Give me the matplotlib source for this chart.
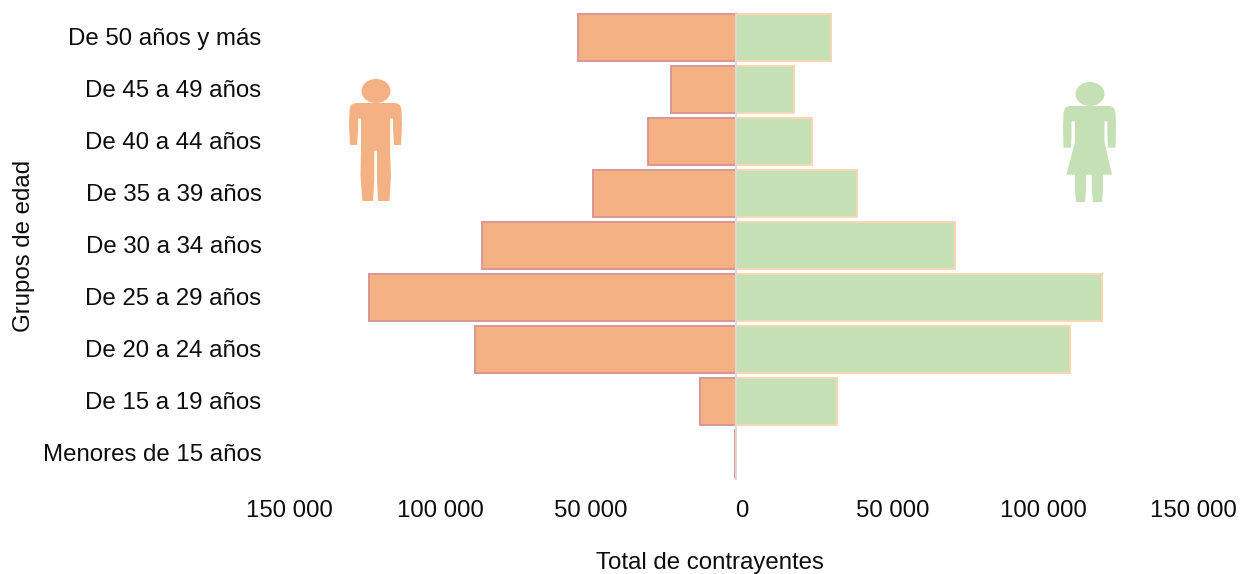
import matplotlib
matplotlib.use("Agg")
import matplotlib.pyplot as plt
from matplotlib.patches import Ellipse, PathPatch
from matplotlib.path import Path
from matplotlib.transforms import ScaledTranslation

plt.rcParams['font.family'] = ['Liberation Sans', 'DejaVu Sans']

grupos = ["Menores de 15 años", "De 15 a 19 años", "De 20 a 24 años", "De 25 a 29 años",
          "De 30 a 34 años", "De 35 a 39 años", "De 40 a 44 años", "De 45 a 49 años",
          "De 50 años y más"]
hombres = [150, 11800, 86900, 122600, 84700, 47600, 29100, 21550, 52700]
mujeres = [60, 33800, 111800, 122600, 73300, 40600, 25450, 19400, 31900]
ticks = [-150000, -100000, -50000, 0, 50000, 100000, 150000]
tick_labels = ["150 000", "100 000", "50 000", "0", "50 000", "100 000", "150 000"]

W, H = 1247, 574
FS = 17.3
TXT = "#0d0d0d"
fig = plt.figure(figsize=(W / 100, H / 100), dpi=100)
# left/bottom/width/height measured in pixels from the reference
ax = fig.add_axes([286.5 / W, 1 - 479.5 / H, 898 / W, 468 / H])

y = range(len(grupos))
ax.barh(y, [-v for v in hombres], height=0.9, color="#F4B183", edgecolor="#D99694", linewidth=1.4)
ax.barh(y, mujeres, height=0.9, color="#C5E0B4", edgecolor="#FBD5B5", linewidth=1.4)
ax.axvline(0, color="#D9D9D9", linewidth=1.2, zorder=5)

ax.set_xlim(-150000, 150000)
ax.set_ylim(-0.5, 8.5)
ax.set_yticks(list(y))
ax.set_yticklabels(grupos, fontsize=FS, color=TXT)
ax.set_xticks(ticks)
ax.set_xticklabels(tick_labels, fontsize=FS, color=TXT)
ax.tick_params(axis='y', length=0, pad=18)
ax.tick_params(axis='x', length=0, pad=15)
# tick labels sit slightly right of their ticks in the reference, spread a little wider
for i, lab in enumerate(ax.get_xticklabels()):
    shift = 6 + (i - 3) * 1.1
    lab.set_transform(lab.get_transform() + ScaledTranslation(shift / 100, 0, fig.dpi_scale_trans))
for lab in ax.get_yticklabels():
    lab.set_transform(lab.get_transform() + ScaledTranslation(0, 1 / 100, fig.dpi_scale_trans))
for s in ax.spines.values():
    s.set_visible(False)

fig.text(710 / W, 1 - 563 / H, "Total de contrayentes", fontsize=FS, color=TXT,
         ha='center', va='center')
fig.text(24 / W, 1 - 245.5 / H, "Grupos de edad", fontsize=FS, color=TXT,
         rotation=90, ha='center', va='center')

# overlay in pixel coordinates for the two pictograms
ov = fig.add_axes([0, 0, 1, 1], facecolor='none')
ov.set_xlim(0, W)
ov.set_ylim(H, 0)
ov.axis('off')

def figura(puntos, color):
    verts = [p for p in puntos] + [puntos[0]]
    codes = [Path.MOVETO] + [Path.LINETO] * (len(puntos) - 1) + [Path.CLOSEPOLY]
    ov.add_patch(PathPatch(Path(verts, codes), facecolor=color, edgecolor='none'))

# man
ov.add_patch(Ellipse((376, 91), 29, 24, color="#F4B183", lw=0))
figura([(355, 103), (396, 103), (400, 105), (401.5, 110), (402, 125), (401, 145), (394, 145),
        (393, 130), (393, 118.5), (390, 118.5), (390, 150), (391, 175), (389.5, 201),
        (378, 201), (377, 180), (377, 150.7), (374.3, 150.7), (374.3, 180), (373, 201),
        (362.3, 201), (360.5, 175), (361, 150), (361, 118.5), (358, 118.5), (358, 130),
        (357, 145), (350, 145), (349, 125), (349.5, 110), (351, 105)], "#F4B183")

# woman
ov.add_patch(Ellipse((1090, 94), 29, 24, color="#C5E0B4", lw=0))
figura([(1069, 106), (1110, 106), (1114, 108), (1115.5, 113), (1116, 128), (1115.5, 147.7),
        (1108, 147.7), (1107.3, 135), (1107.3, 121.3), (1104.5, 121.3), (1104.5, 142),
        (1112, 174.7), (1103, 174.7), (1103, 190), (1102, 202), (1093, 202), (1091.7, 190),
        (1091.7, 174.7), (1086, 174.7), (1086, 190), (1085, 202), (1076, 202), (1075, 190),
        (1075, 174.7), (1066.3, 174.7), (1075, 142), (1075, 121.3), (1071.5, 121.3),
        (1071.5, 135), (1071, 147.7), (1063.5, 147.7), (1063, 128), (1063.5, 113), (1065, 108)],
       "#C5E0B4")

fig.savefig("out.png", dpi=100)
